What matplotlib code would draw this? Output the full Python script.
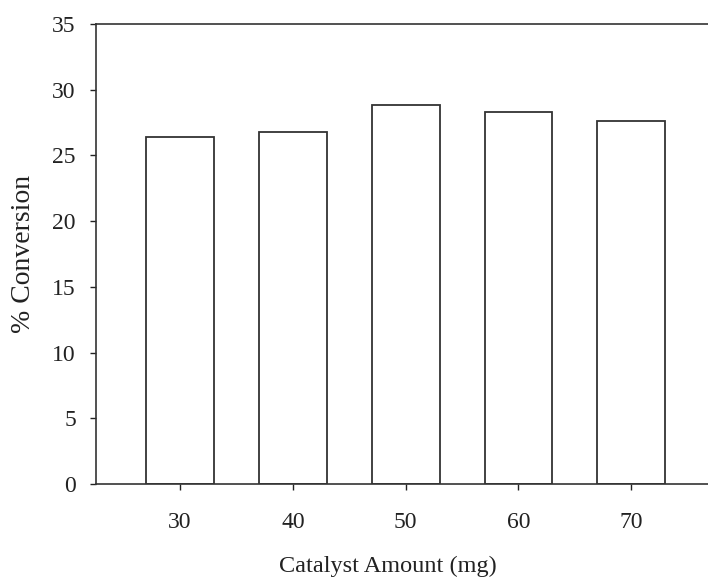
import matplotlib
matplotlib.use("Agg")
import matplotlib.pyplot as plt

catalyst_mg = [30, 40, 50, 60, 70]
conversion = [26.4, 26.8, 28.8, 28.3, 27.6]
y_ticks = [0, 5, 10, 15, 20, 25, 30, 35]

plt.rcParams['font.family'] = ['Liberation Serif', 'DejaVu Serif']

fig = plt.figure(figsize=(7.08, 5.79), dpi=100)
ax = fig.add_axes([96/708, (579-484)/579, 1 - 96/708, (484-24)/579])

ax.bar(catalyst_mg, conversion, width=6.0, color='white', edgecolor='#333333', linewidth=1.3)

ax.set_xlim(22.55, 76.8)
ax.set_ylim(0, 35)
ax.set_yticks(y_ticks)
ax.set_xticks(catalyst_mg)

for s in ['left', 'bottom', 'top']:
    ax.spines[s].set_color('#333333')
    ax.spines[s].set_linewidth(1.2)
ax.spines['right'].set_visible(False)

ax.tick_params(axis='y', direction='out', length=4.5, width=1.0, pad=10, labelsize=17, colors='#222222')
ax.tick_params(axis='x', direction='out', length=4.5, width=1.0, pad=16, labelsize=17, colors='#222222')

ax.set_xlabel('Catalyst Amount (mg)', fontsize=17.5, labelpad=17, color='#222222')
ax.xaxis.set_label_coords((388 - 96) / 612, -0.157)
ax.set_ylabel('% Conversion', fontsize=20, labelpad=12, color='#222222')

fig.savefig('out.png', dpi=100)
